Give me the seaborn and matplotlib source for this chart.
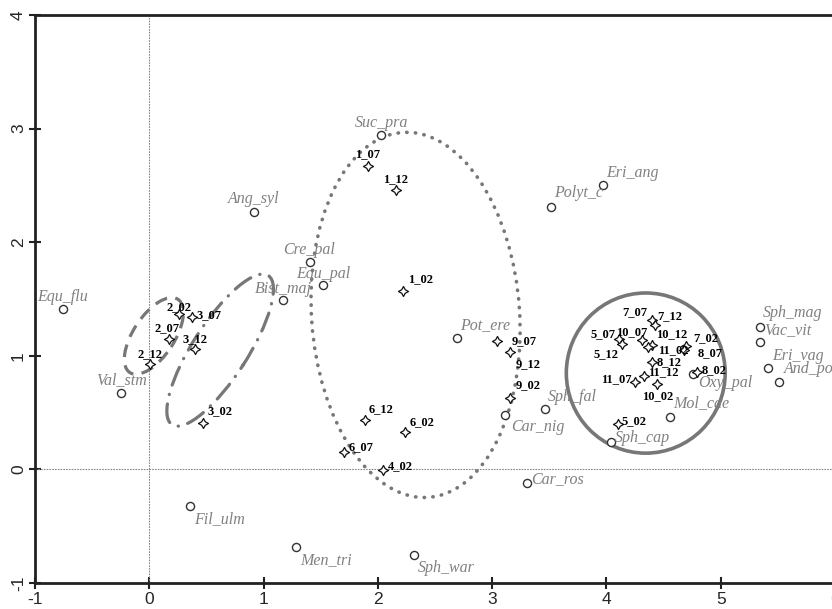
import matplotlib
matplotlib.use('Agg')
import matplotlib.pyplot as plt
from matplotlib.patches import Ellipse
import seaborn as sns

# species scores (open circles, grey italic labels)
species = ['Equ_flu', 'Ang_syl', 'Cre_pal', 'Equ_pal', 'Bist_maj', 'Val_stm', 'Suc_pra',
           'Pot_ere', 'Polyt_c', 'Eri_ang', 'Car_nig', 'Sph_fal', 'Car_ros', 'Men_tri',
           'Sph_war', 'Fil_ulm', 'Sph_mag', 'Vac_vit', 'Eri_vag', 'And_pol', 'Oxy_pal',
           'Mol_cae', 'Sph_cap']
species_x = [-0.755, 0.913, 1.402, 1.520, 1.170, -0.245, 2.030,
             2.695, 3.514, 3.969, 3.115, 3.465, 3.304, 1.283,
             2.312, 0.359, 5.345, 5.345, 5.416, 5.506, 4.757,
             4.558, 4.039]
species_y = [1.415, 2.265, 1.825, 1.626, 1.494, 0.673, 2.940,
             1.159, 2.306, 2.500, 0.475, 0.528, -0.121, -0.684,
             -0.751, -0.326, 1.250, 1.118, 0.889, 0.768, 0.836,
             0.460, 0.240]

# sample scores (stars, bold labels)
samples = ['1_07', '1_12', '1_02', '2_02', '2_07', '2_12', '3_02', '3_07', '3_12', '4_02',
           '5_02', '5_07', '5_12', '6_02', '6_07', '6_12', '7_02', '7_07', '7_12',
           '8_02', '8_07', '8_12', '9_02', '9_07', '9_12', '10_02', '10_07', '10_12',
           '11_02', '11_07', '11_12']
sample_x = [1.913, 2.158, 2.220, 0.256, 0.169, 0.003, 0.470, 0.374, 0.402, 2.041,
            4.097, 4.106, 4.136, 2.240, 1.706, 1.890, 4.698, 4.398, 4.421,
            4.792, 4.675, 4.398, 3.152, 3.042, 3.158, 4.442, 4.311, 4.398,
            4.363, 4.252, 4.333]
sample_y = [2.670, 2.456, 1.570, 1.371, 1.144, 0.924, 0.411, 1.341, 1.063, -0.009,
            0.402, 1.151, 1.107, 0.328, 0.152, 0.431, 1.083, 1.312, 1.268,
            0.857, 1.054, 0.945, 0.625, 1.129, 1.033, 0.754, 1.136, 1.098,
            1.077, 0.768, 0.821]

# label placement (offset in pixels, alignment)
species_pos = {
    'Equ_flu': (0, 12, 'center'), 'Ang_syl': (0, 13, 'center'), 'Cre_pal': (0, 12, 'center'),
    'Equ_pal': (0, 11, 'center'), 'Bist_maj': (0, 11, 'center'), 'Val_stm': (0, 13, 'center'),
    'Suc_pra': (0, 12, 'center'), 'Pot_ere': (3, 13, 'left'), 'Polyt_c': (3, 14, 'left'),
    'Eri_ang': (3, 12, 'left'), 'Car_nig': (6, -12, 'left'), 'Sph_fal': (3, 12, 'left'),
    'Car_ros': (4, 4, 'left'), 'Men_tri': (4, -13, 'left'), 'Sph_war': (4, -13, 'left'),
    'Fil_ulm': (4, -13, 'left'), 'Sph_mag': (3, 14, 'left'), 'Vac_vit': (4, 12, 'left'),
    'Eri_vag': (4, 12, 'left'), 'And_pol': (5, 13, 'left'), 'Oxy_pal': (5, -9, 'left'),
    'Mol_cae': (3, 14, 'left'), 'Sph_cap': (4, 4, 'left'),
}
sample_pos = {
    '1_07': (0, 12, 'center'), '1_12': (0, 11, 'center'), '1_02': (5, 12, 'left'),
    '2_02': (0, 7, 'center'), '2_07': (-2, 11, 'center'), '2_12': (0, 10, 'center'),
    '3_02': (4, 12, 'left'), '3_07': (4, 2, 'left'), '3_12': (0, 10, 'center'),
    '4_02': (5, 4, 'left'), '5_02': (4, 3, 'left'), '5_07': (-3, 5, 'right'),
    '5_12': (-3, -10, 'right'), '6_02': (4, 10, 'left'), '6_07': (4, 5, 'left'),
    '6_12': (3, 11, 'left'), '7_02': (7, 8, 'left'), '7_07': (-5, 8, 'right'),
    '7_12': (3, 9, 'left'), '8_02': (5, 2, 'left'), '8_07': (14, -3, 'left'),
    '8_12': (5, 0, 'left'), '9_02': (6, 13, 'left'), '9_07': (15, 0, 'left'),
    '9_12': (5, -12, 'left'), '10_02': (1, -12, 'center'), '10_07': (-10, 8, 'center'),
    '10_12': (4, 11, 'left'), '11_02': (10, -3, 'left'), '11_07': (-4, 3, 'right'),
    '11_12': (4, 4, 'left'),
}

sns.set_style('white')
plt.rcParams['font.family'] = ['Liberation Sans', 'DejaVu Sans']
plt.rcParams['axes.unicode_minus'] = False

fig = plt.figure(figsize=(8.32, 6.09), dpi=100)
ax = fig.add_axes([35 / 832, 26 / 609, 800 / 832, 568 / 609])

# reference lines through origin
ax.axhline(0, color='#888888', lw=0.8, ls=(0, (1.5, 1)), zorder=1)
ax.axvline(0, color='#888888', lw=0.8, ls=(0, (1.5, 1)), zorder=1)

# group envelopes
grey = '#777777'
ax.add_patch(Ellipse((2.33, 1.36), 3.22, 1.82, angle=94, fill=False, ec=grey, lw=2.6,
                     ls=(0, (0.1, 2.3)), capstyle='round', zorder=2))
ax.add_patch(Ellipse((0.04, 1.175), 0.77, 0.36, angle=57, fill=False, ec=grey, lw=2.3,
                     ls=(0, (4, 2.6)), zorder=2))
ax.add_patch(Ellipse((0.62, 1.05), 1.56, 0.48, angle=57.4, fill=False, ec=grey, lw=2.3,
                     ls=(0, (6, 3, 0.1, 3)), capstyle='round', zorder=2))
ax.add_patch(Ellipse((4.344, 0.848), 1.39, 1.41, fill=False, ec=grey, lw=2.6, zorder=2))

sns.scatterplot(x=species_x, y=species_y, ax=ax, marker='o', s=34, color='white',
                edgecolor='#333333', linewidth=1.0, zorder=4)
sns.scatterplot(x=sample_x, y=sample_y, ax=ax, marker=(4, 1, 0), s=52, color='white',
                edgecolor='#111111', linewidth=0.9, zorder=5)

for name, x, y in zip(species, species_x, species_y):
    dx, dy, ha = species_pos[name]
    ax.annotate(name, (x, y), xytext=(dx, dy), textcoords='offset pixels', ha=ha, va='center',
                fontsize=11.5, family='Liberation Serif', style='italic', color='#808080',
                zorder=6)
for name, x, y in zip(samples, sample_x, sample_y):
    dx, dy, ha = sample_pos[name]
    ax.annotate(name, (x, y), xytext=(dx, dy), textcoords='offset pixels', ha=ha, va='center',
                fontsize=9, family='Liberation Serif', weight='bold', color='black', zorder=6)

ax.set_xlim(-1, 6)
ax.set_ylim(-1, 4)
ax.set_xticks(range(-1, 7))
ax.set_yticks(range(-1, 5))
ax.set_xlabel('')
ax.set_ylabel('')
for side in ['left', 'top', 'bottom']:
    ax.spines[side].set_visible(True)
    ax.spines[side].set_linewidth(2)
    ax.spines[side].set_color('#222222')
ax.spines['right'].set_visible(False)
ax.tick_params(axis='both', direction='inout', length=9, width=1.5, color='#222222',
               labelsize=12.5, bottom=True, left=True, top=False, right=False)
ax.tick_params(axis='x', pad=2)
ax.tick_params(axis='y', pad=2)
for lab in ax.get_yticklabels():
    lab.set_rotation(90)
    lab.set_va('center')

fig.savefig('out.png', dpi=100)
